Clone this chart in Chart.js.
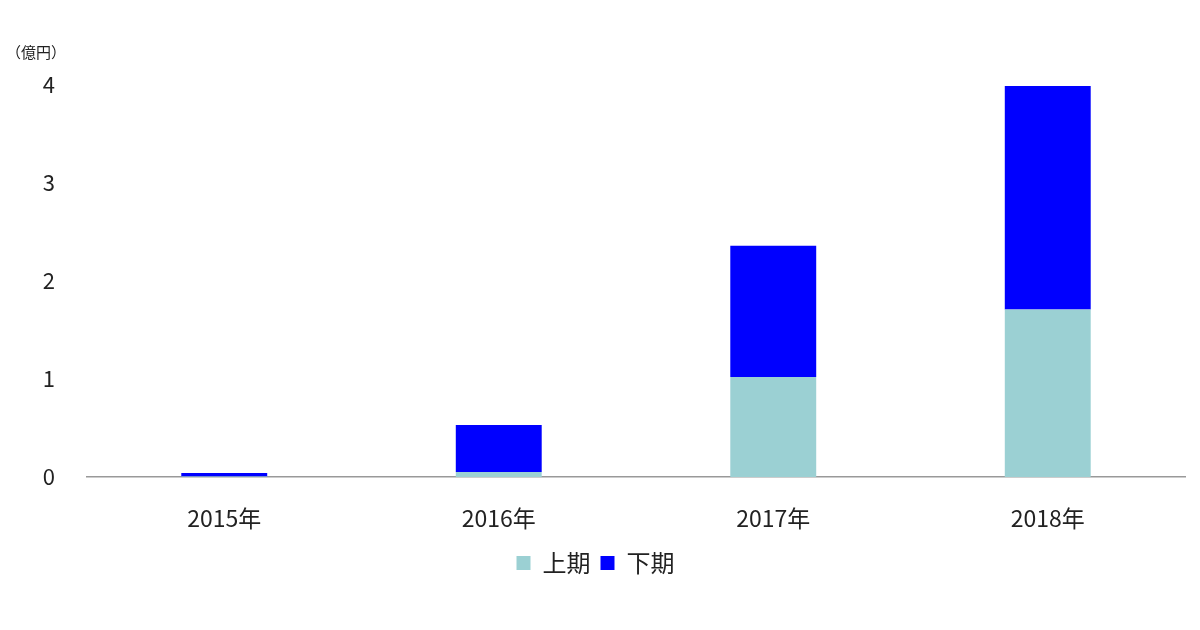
<!DOCTYPE html>
<html><head><meta charset="utf-8">
<script src="https://cdn.jsdelivr.net/npm/chart.js@4.4.1/dist/chart.umd.min.js"></script>
<style>html,body{margin:0;padding:0;background:#fff}#wrap{width:1200px;height:630px}</style>
</head><body><div id="wrap"><canvas id="c" width="1200" height="630"></canvas></div>
<script>
const categories = ['2015年', '2016年', '2017年', '2018年'];
const firstHalf = [0.005, 0.05, 1.02, 1.71];
const secondHalf = [0.035, 0.48, 1.34, 2.28];
const seriesNames = ['上期', '下期'];
const yTicks = [0, 1, 2, 3, 4];
const unitLabel = '（億円）';

const FONT = "'Noto Sans CJK JP', 'Noto Sans', sans-serif";
new Chart(document.getElementById('c'), {
  type: 'bar',
  data: {
    labels: categories,
    datasets: [
      { label: seriesNames[0], data: firstHalf, backgroundColor: '#9bd0d3', borderWidth: 0, barPercentage: 0.313, categoryPercentage: 1 },
      { label: seriesNames[1], data: secondHalf, backgroundColor: '#0000ff', borderWidth: 0, barPercentage: 0.313, categoryPercentage: 1 }
    ]
  },
  options: {
    responsive: false,
    animation: false,
    layout: { padding: { left: 6, right: 15, top: 43, bottom: 45 } },
    plugins: {
      title: { display: true, text: unitLabel, align: 'start', color: '#222',
        font: { family: FONT, size: 15, weight: 'normal' }, padding: { top: 0, bottom: 24 } },
      legend: { position: 'bottom', labels: { color: '#222', boxWidth: 14, boxHeight: 14, padding: 10,
        font: { family: FONT, size: 24 } } },
      tooltip: { enabled: false }
    },
    scales: {
      x: {
        stacked: true,
        grid: { display: false, drawTicks: false },
        border: { display: true, color: '#999', width: 1.5 },
        ticks: { color: '#222', font: { family: FONT, size: 23 }, padding: 27 },
        afterFit: s => { s.height = 64; }
      },
      y: {
        stacked: true,
        min: 0, max: 4,
        afterBuildTicks: s => { s.ticks = yTicks.map(v => ({ value: v })); },
        grid: { display: false, drawTicks: false },
        border: { display: false },
        ticks: { color: '#222', font: { family: FONT, size: 22 }, padding: 32 },
        afterFit: s => { s.width = 81; }
      }
    }
  }
});
</script></body></html>
